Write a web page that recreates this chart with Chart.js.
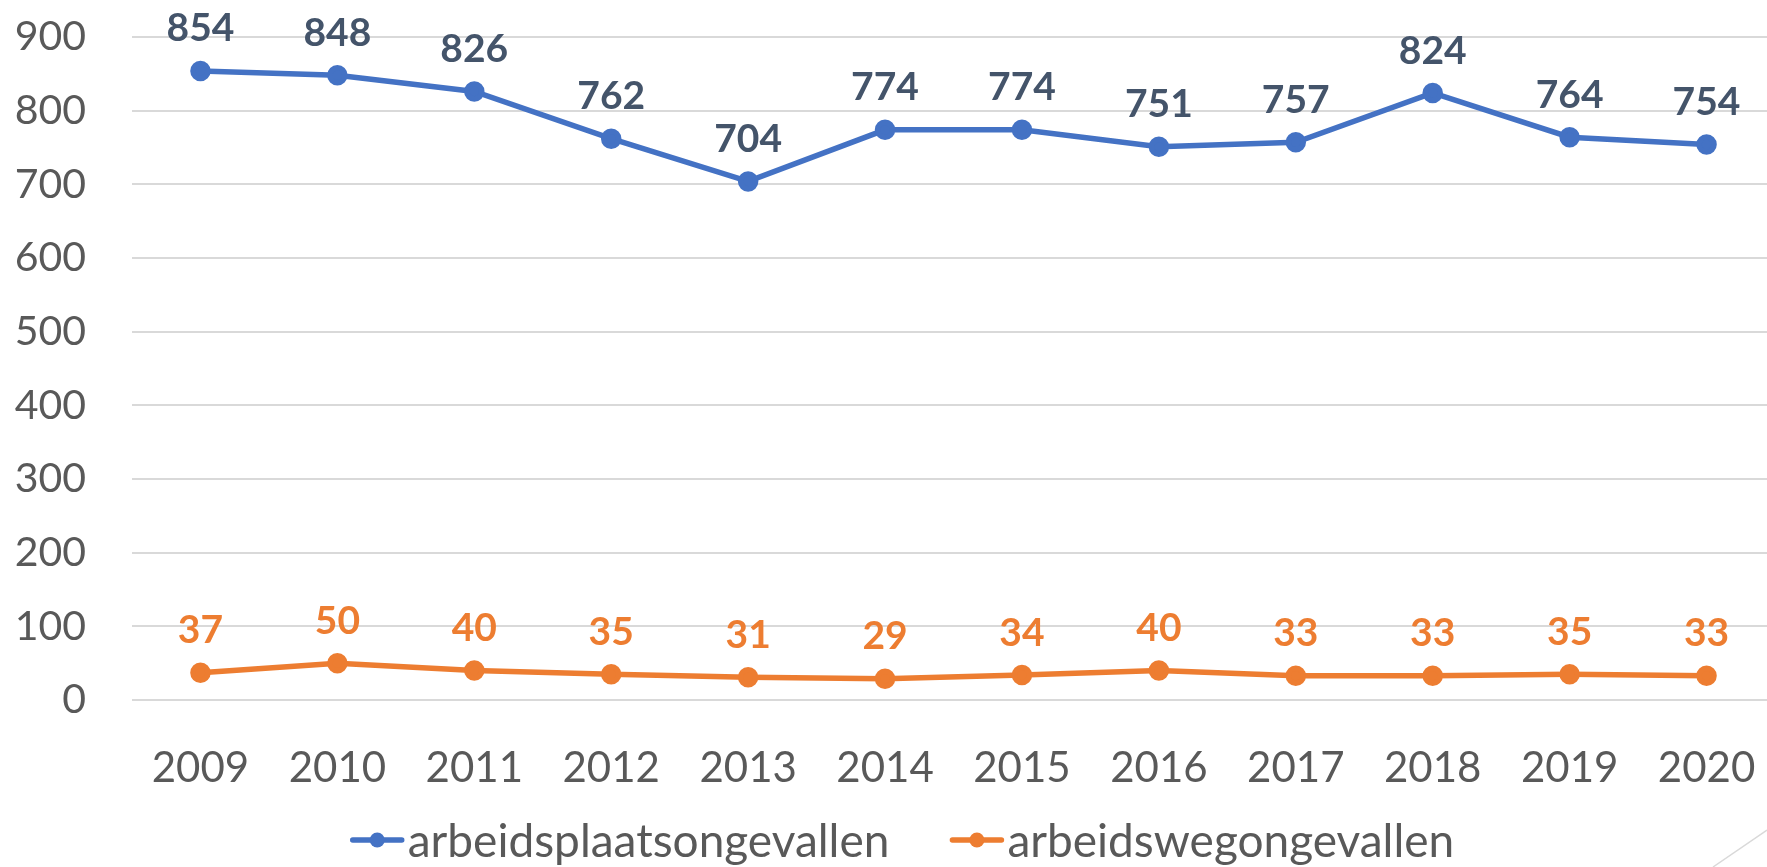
<!DOCTYPE html>
<html>
<head>
<meta charset="utf-8">
<script src="https://cdn.jsdelivr.net/npm/chart.js@4.4.1/dist/chart.umd.min.js"></script>
<style>
  html, body { margin: 0; padding: 0; background: #fff; overflow: hidden; }
  #wrap { position: relative; width: 1775px; height: 867px; }
  #deco { position: absolute; left: 0; top: 0; pointer-events: none; }
</style>
</head>
<body>
<div id="wrap">
  <canvas id="chart"></canvas>
  <svg id="deco" width="1767" height="867"><line x1="1713" y1="867" x2="1767" y2="830" stroke="#d9d9d9" stroke-width="1.5"/></svg>
</div>
<script>
const years = ['2009', '2010', '2011', '2012', '2013', '2014', '2015', '2016', '2017', '2018', '2019', '2020'];
const arbeidsplaats = [854, 848, 826, 762, 704, 774, 774, 751, 757, 824, 764, 754];
const arbeidsweg = [37, 50, 40, 35, 31, 29, 34, 40, 33, 33, 35, 33];
const yTicks = [0, 100, 200, 300, 400, 500, 600, 700, 800, 900];

const FONT = 'Lato, "Open Sans", sans-serif';
const BLUE = '#4472C4';
const ORANGE = '#ED7D31';
const TEXT = '#595959';

const valueLabels = {
    id: 'valueLabels',
    afterDatasetsDraw(chart) {
        const ctx = chart.ctx;
        ctx.save();
        ctx.font = 'bold 39px ' + FONT;
        ctx.textAlign = 'center';
        ctx.textBaseline = 'middle';
        chart.data.datasets.forEach((ds, i) => {
            ctx.fillStyle = ds.labelColor;
            chart.getDatasetMeta(i).data.forEach((pt, j) => {
                ctx.fillText(ds.data[j], pt.x, pt.y - 42);
            });
        });
        ctx.restore();
    }
};

// legend: line with dot, then text, drawn below the x axis
const lineLegend = {
    id: 'lineLegend',
    afterDraw(chart) {
        const ctx = chart.ctx;
        const y = 840, markW = 55, gap = 3, itemGap = 60;
        ctx.save();
        ctx.font = '46px ' + FONT;
        ctx.textBaseline = 'middle';
        const items = chart.data.datasets.map(ds => ({ ds, w: ctx.measureText(ds.label).width }));
        const total = items.reduce((s, it) => s + markW + gap + it.w, 0) + itemGap * (items.length - 1);
        let x = 902 - total / 2;
        items.forEach(it => {
            ctx.strokeStyle = it.ds.borderColor;
            ctx.lineWidth = 5.5;
            ctx.lineCap = 'round';
            ctx.beginPath(); ctx.moveTo(x + 3, y); ctx.lineTo(x + markW - 3, y); ctx.stroke();
            ctx.fillStyle = it.ds.borderColor;
            ctx.beginPath(); ctx.arc(x + markW / 2, y, 7.5, 0, Math.PI * 2); ctx.fill();
            ctx.fillStyle = TEXT;
            ctx.fillText(it.ds.label, x + markW + gap, y + 2);
            x += markW + gap + it.w + itemGap;
        });
        ctx.restore();
    }
};

new Chart(document.getElementById('chart'), {
    type: 'line',
    data: {
        labels: years,
        datasets: [{
            label: 'arbeidsplaatsongevallen',
            data: arbeidsplaats,
            borderColor: BLUE,
            backgroundColor: BLUE,
            labelColor: '#44546A',
            borderWidth: 5.5,
            pointRadius: 7.5,
            pointHoverRadius: 7.5,
            tension: 0,
        }, {
            label: 'arbeidswegongevallen',
            data: arbeidsweg,
            borderColor: ORANGE,
            backgroundColor: ORANGE,
            labelColor: ORANGE,
            borderWidth: 5.5,
            pointRadius: 7.5,
            pointHoverRadius: 7.5,
            tension: 0,
        }],
    },
    options: {
        responsive: true,
        maintainAspectRatio: false,
        animation: false,
        layout: { autoPadding: false, padding: { top: 0, left: 0, right: 0, bottom: 67 } },
        plugins: {
            tooltip: { enabled: false },
            legend: { display: false },
        },
        scales: {
            x: {
                offset: true,
                grid: { display: false, drawTicks: false },
                border: { display: false },
                ticks: {
                    font: { family: FONT, size: 42 },
                    color: TEXT,
                    padding: 43,
                    maxRotation: 0,
                },
                afterFit(scale) {
                    scale.height = 100;
                    scale.paddingLeft = 0;
                    scale.paddingRight = 0;
                },
            },
            y: {
                min: 0,
                max: 900,
                afterBuildTicks(scale) { scale.ticks = yTicks.map(v => ({ value: v })); },
                grid: { color: '#d9d9d9', lineWidth: 2, drawTicks: false },
                border: { display: false },
                ticks: {
                    font: { family: FONT, size: 41 },
                    color: TEXT,
                    padding: 46,
                },
                afterFit(scale) {
                    scale.width = 132;
                    scale.paddingTop = 37;
                    scale.paddingBottom = 0;
                },
            },
        },
    },
    plugins: [valueLabels, lineLegend],
});
</script>
</body>
</html>
